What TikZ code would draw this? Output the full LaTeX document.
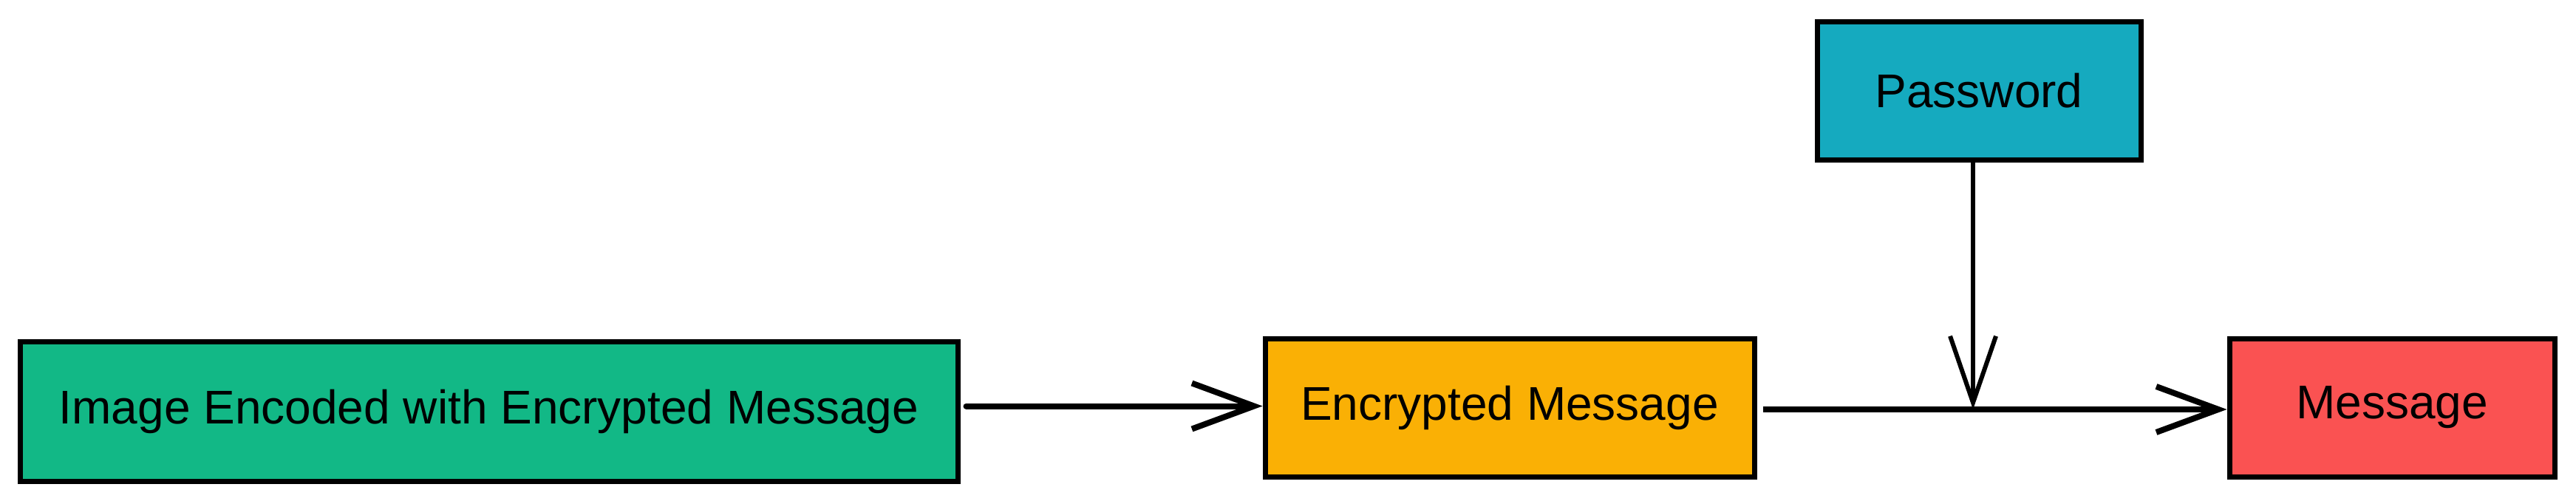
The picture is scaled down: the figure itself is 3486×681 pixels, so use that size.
\documentclass[tikz,border=0pt]{standalone}
\usepackage{fontspec}
\setmainfont{Liberation Sans}
\usetikzlibrary{arrows.meta}
\definecolor{cgreen}{HTML}{12B886}
\definecolor{corange}{HTML}{FAB005}
\definecolor{ccyan}{HTML}{15AABF}
\definecolor{cred}{HTML}{FA5252}
\tikzset{
  box/.style={draw=black, line width=7pt, minimum height=187pt, inner sep=0pt,
    font=\fontsize{64}{77}\selectfont, text=black},
  conn/.style={line width=8pt, line cap=round, -{Straight Barb[length=84pt,width=62pt]}},
}
\begin{document}
\begin{tikzpicture}[x=1pt,y=-1pt]
\useasboundingbox[fill=white] (0,0) rectangle (3486,681);
\node[box, fill=cgreen, minimum width=1269pt, minimum height=189pt] (img) at (661.5,556.5) {Image Encoded with Encrypted Message};
\node[box, fill=corange, minimum width=662pt] (enc) at (2043,551.5) {Encrypted Message};
\node[box, fill=ccyan, minimum width=438pt] (pw) at (2678,122.5) {Password};
\node[box, fill=cred, minimum width=440pt] (msg) at (3237,551.5) {Message};
\coordinate (join) at (2670,554);
\draw[conn] (img.east) ++(8,-7) coordinate (s1) -- (enc.west |- s1);
\draw[line width=8pt] (enc.east) ++(8,2.5) coordinate (s2) -- (join);
\draw[conn] (join) -- (msg.west |- join);
\draw[line width=6pt, -{Straight Barb[length=90pt,width=62pt]}] (pw.south -| join) -- (join);
\end{tikzpicture}
\end{document}
